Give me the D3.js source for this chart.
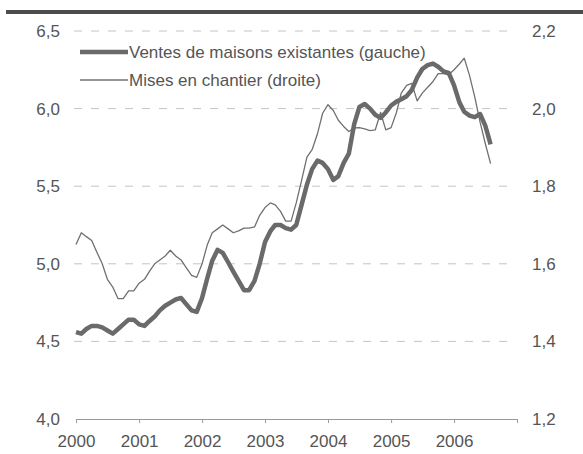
<!DOCTYPE html>
<html>
<head>
<meta charset="utf-8">
<style>
    body { margin: 0; background: #fff; }
    svg text { font-family: "Liberation Sans", Arial, sans-serif; fill: #555; }
    .grid line { stroke: #c4c4c4; stroke-width: 1; stroke-dasharray: 8,9; }
    .line { fill: none; stroke: #6a6a6a; stroke-linejoin: round; }
    .ventes { stroke-width: 4.5px; }
    .mises { stroke-width: 1.3px; stroke: #707070; }
    .axis path, .axis line { stroke: #9a9a9a; }
</style>
</head>
<body>
<script src="https://d3js.org/d3.v7.min.js"></script>
<script>
// monthly data, Jan 2000 -> Aug 2006
var startYear = 2000;

// existing home sales, millions (left axis)
var ventes = [
    4.56, 4.55, 4.58, 4.60, 4.60, 4.59, 4.57, 4.55, 4.58, 4.61, 4.64, 4.64,
    4.61, 4.60, 4.63, 4.66, 4.70, 4.73, 4.75, 4.77, 4.78, 4.74, 4.70, 4.69,
    4.78, 4.91, 5.02, 5.09, 5.07, 5.01, 4.95, 4.89, 4.83, 4.83, 4.89, 5.00,
    5.14, 5.21, 5.25, 5.25, 5.23, 5.22, 5.25, 5.38, 5.51, 5.61, 5.665, 5.65,
    5.61, 5.54, 5.565, 5.65, 5.71, 5.90, 6.01, 6.03, 6.00, 5.96, 5.94, 5.975,
    6.02, 6.045, 6.06, 6.08, 6.12, 6.20, 6.255, 6.28, 6.29, 6.27, 6.24, 6.23,
    6.15, 6.04, 5.98, 5.955, 5.945, 5.965, 5.89, 5.77
];

// housing starts, millions (right axis)
var mises = [
    1.65, 1.68, 1.67, 1.66, 1.63, 1.60, 1.56, 1.54, 1.51, 1.51, 1.53, 1.53,
    1.55, 1.56, 1.58, 1.60, 1.61, 1.62, 1.635, 1.62, 1.61, 1.59, 1.57, 1.565,
    1.60, 1.65, 1.68, 1.69, 1.70, 1.69, 1.68, 1.685, 1.692, 1.692, 1.695, 1.725,
    1.745, 1.757, 1.752, 1.735, 1.71, 1.71, 1.757, 1.815, 1.875, 1.894, 1.935, 1.988,
    2.01, 1.995, 1.97, 1.954, 1.941, 1.95, 1.951, 1.948, 1.943, 1.945, 1.99, 1.945,
    1.951, 1.99, 2.04, 2.06, 2.065, 2.02, 2.04, 2.055, 2.07, 2.09, 2.09, 2.087,
    2.10, 2.115, 2.13, 2.085, 2.03, 1.965, 1.91, 1.858
];

var yearTicks = [2000, 2001, 2002, 2003, 2004, 2005, 2006, 2007];
var leftTicks = [4.0, 4.5, 5.0, 5.5, 6.0, 6.5];
var rightTicks = [1.2, 1.4, 1.6, 1.8, 2.0, 2.2];
var legendLabels = ["Ventes de maisons existantes (gauche)", "Mises en chantier (droite)"];

var width = 583, height = 454;
var plot = { left: 76, right: 517, top: 31, bottom: 419 };

var svg = d3.select("body").append("svg")
    .attr("width", width)
    .attr("height", height);

var x = d3.scaleTime()
    .domain([new Date(2000, 0, 1), new Date(2007, 0, 1)])
    .range([plot.left, plot.right]);

var yLeft = d3.scaleLinear().domain([4, 6.5]).range([plot.bottom, plot.top]);
var yRight = d3.scaleLinear().domain([1.2, 2.2]).range([plot.bottom, plot.top]);

var comma = function(d) { return d3.format(".1f")(d).replace(".", ","); };

// header rule
svg.append("rect")
    .attr("x", 6).attr("y", 10)
    .attr("width", width - 6).attr("height", 4)
    .attr("fill", "#4d4d4d");

// dashed gridlines
svg.append("g")
    .attr("class", "grid")
    .selectAll("line")
    .data(leftTicks.filter(function(d) { return d > 4; }))
    .enter().append("line")
    .attr("x1", plot.left - 2)
    .attr("x2", plot.right - 4)
    .attr("y1", function(d) { return yLeft(d); })
    .attr("y2", function(d) { return yLeft(d); });

// left axis labels
var leftAxis = svg.append("g")
    .attr("transform", "translate(" + (plot.left - 8) + ",0)")
    .call(d3.axisLeft(yLeft).tickValues(leftTicks).tickSize(0).tickPadding(8).tickFormat(comma));
leftAxis.select(".domain").remove();
leftAxis.selectAll("text").style("font-size", "17px").style("fill", "#555");

// right axis labels
var rightAxis = svg.append("g")
    .attr("transform", "translate(" + (plot.right + 7) + ",0)")
    .call(d3.axisRight(yRight).tickValues(rightTicks).tickSize(0).tickPadding(8).tickFormat(comma));
rightAxis.select(".domain").remove();
rightAxis.selectAll("text").style("font-size", "17px").style("fill", "#555");

// bottom axis
var xAxis = svg.append("g")
    .attr("class", "axis")
    .attr("transform", "translate(0," + plot.bottom + ")")
    .call(d3.axisBottom(x)
        .tickValues(yearTicks.map(function(y) { return new Date(y, 0, 1); }))
        .tickSizeInner(4).tickSizeOuter(0).tickPadding(12)
        .tickFormat(function(d) { return d.getFullYear() < 2007 ? d.getFullYear() : ""; }));
xAxis.selectAll("text").style("font-size", "17px").style("fill", "#555");

// series
var dates = ventes.map(function(d, i) { return new Date(startYear, i, 1); });

var lineLeft = d3.line()
    .x(function(d, i) { return x(dates[i]); })
    .y(function(d) { return yLeft(d); });

var lineRight = d3.line()
    .x(function(d, i) { return x(dates[i]); })
    .y(function(d) { return yRight(d); });

svg.append("path")
    .datum(mises)
    .attr("class", "line mises")
    .attr("d", lineRight);

svg.append("path")
    .datum(ventes)
    .attr("class", "line ventes")
    .attr("d", lineLeft);

// legend
var legend = svg.append("g").attr("transform", "translate(80,0)");
var legendY = [52, 80];
legend.selectAll("line")
    .data(legendLabels)
    .enter().append("line")
    .attr("class", function(d, i) { return i === 0 ? "line ventes" : "line mises"; })
    .attr("x1", 0).attr("x2", 48)
    .attr("y1", function(d, i) { return legendY[i]; })
    .attr("y2", function(d, i) { return legendY[i]; });
legend.selectAll("text")
    .data(legendLabels)
    .enter().append("text")
    .attr("x", 49)
    .attr("y", function(d, i) { return legendY[i] + 6; })
    .style("font-size", "17px")
    .text(function(d) { return d; });
</script>
</body>
</html>
